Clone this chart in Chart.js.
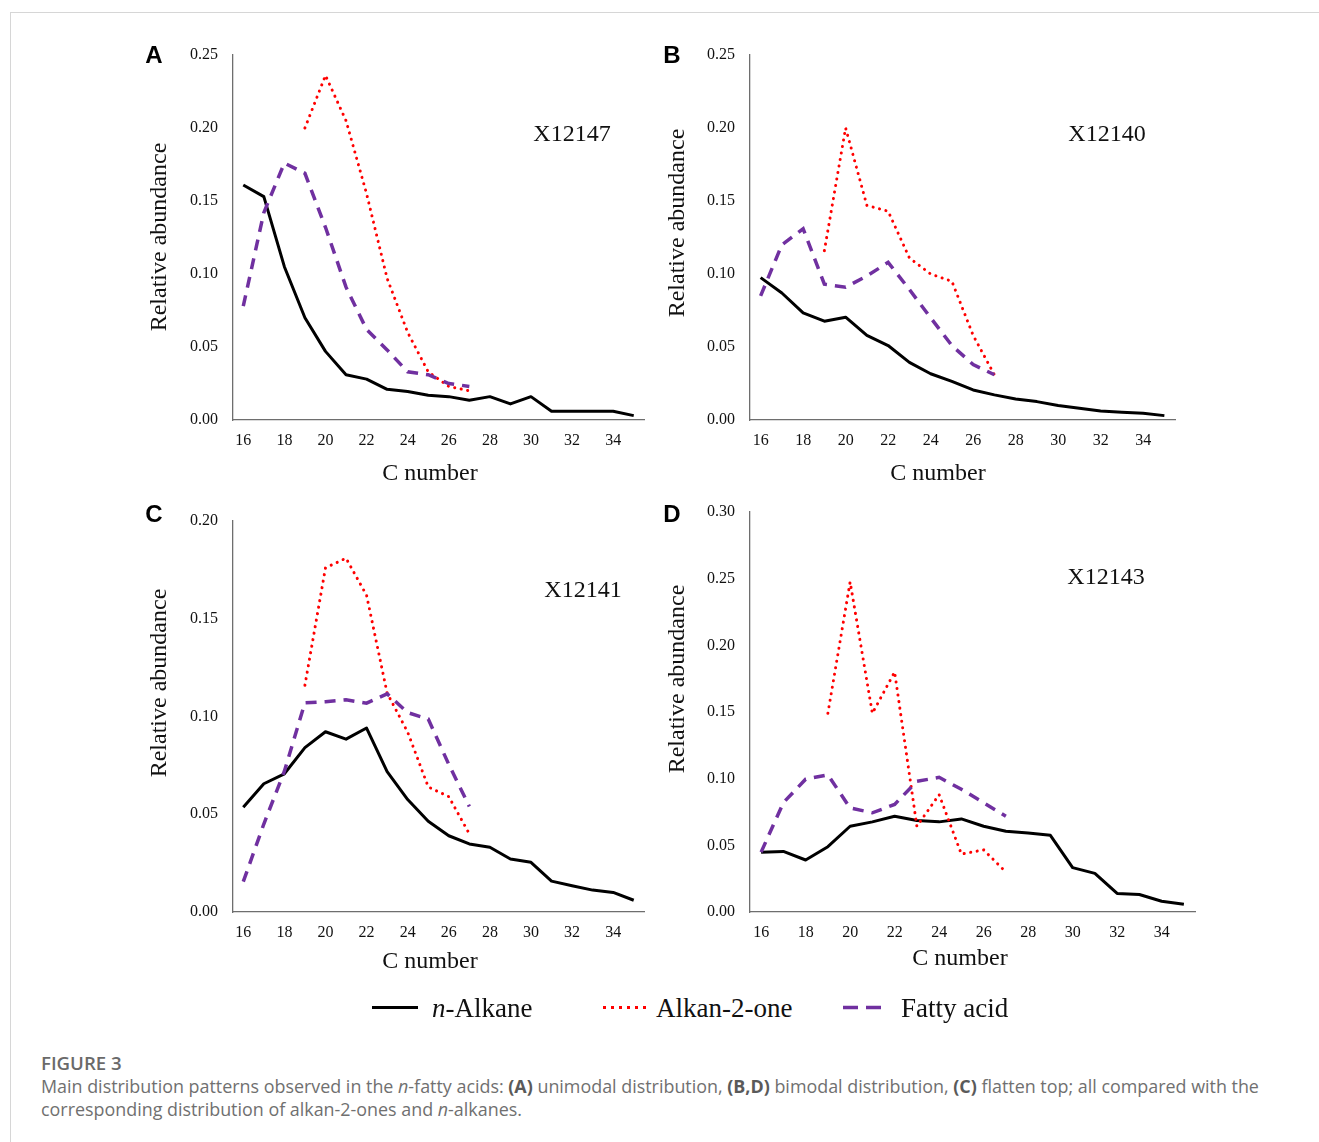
<!DOCTYPE html>
<html>
<head>
<meta charset="utf-8">
<script src="https://cdn.jsdelivr.net/npm/chart.js@4.4.1/dist/chart.umd.min.js"></script>
<style>
  html, body { margin:0; padding:0; background:#fff; }
  body { width:1319px; height:1142px; position:relative; overflow:hidden; }
  .frame-top { position:absolute; left:10px; top:12px; width:1309px; height:1px; background:#d6d6d6; }
  .frame-left { position:absolute; left:10px; top:12px; width:1px; height:1130px; background:#d6d6d6; }
  canvas { position:absolute; }
  .letter { position:absolute; font-family:"Liberation Sans", Arial, sans-serif; font-weight:bold; font-size:24px; line-height:1; transform:translate(-50%,-50%); color:#000; }
  .anno, .axt { position:absolute; font-family:"Liberation Serif", "Times New Roman", serif; font-size:24px; line-height:1; transform:translate(-50%,-50%); color:#111; white-space:nowrap; }
  .ayt { position:absolute; font-family:"Liberation Serif", "Times New Roman", serif; font-size:24px; line-height:1; transform:translate(-50%,-50%) rotate(-90deg); color:#111; white-space:nowrap; }
  .legtext { position:absolute; font-family:"Liberation Serif", "Times New Roman", serif; font-size:27px; line-height:1; transform:translateY(-50%); color:#111; white-space:nowrap; }
  .legsvg { position:absolute; }
  .caption { position:absolute; left:41px; top:1051px; font-family:"Open Sans", "Noto Sans", sans-serif; color:#707070; font-size:17.9px; line-height:23.5px; white-space:nowrap; }
  .caption .fig { font-weight:600; font-size:18.6px; color:#6a6a6a; }
  .caption b { font-weight:700; color:#5a5a5a; }
</style>
</head>
<body>
<div class="frame-top"></div>
<div class="frame-left"></div>

<canvas id="cA" width="530" height="460" style="left:130px; top:42px;"></canvas>
<canvas id="cB" width="545" height="460" style="left:647px; top:42px;"></canvas>
<canvas id="cC" width="530" height="480" style="left:130px; top:508px;"></canvas>
<canvas id="cD" width="565" height="488" style="left:647px; top:502px;"></canvas>

<div class="letter" style="left:154px; top:55px;">A</div>
<div class="letter" style="left:672px; top:55px;">B</div>
<div class="letter" style="left:154px; top:514px;">C</div>
<div class="letter" style="left:672px; top:514px;">D</div>

<div class="anno" style="left:572px; top:133px;">X12147</div>
<div class="anno" style="left:1107px; top:133px;">X12140</div>
<div class="anno" style="left:583px; top:589px;">X12141</div>
<div class="anno" style="left:1106px; top:576px;">X12143</div>

<div class="axt" style="left:430px; top:472px;" id="xtA"></div>
<div class="axt" style="left:938px; top:472px;" id="xtB"></div>
<div class="axt" style="left:430px; top:960px;" id="xtC"></div>
<div class="axt" style="left:960px; top:957px;" id="xtD"></div>

<div class="ayt" style="left:158px; top:237px;" id="ytA"></div>
<div class="ayt" style="left:676px; top:223px;" id="ytB"></div>
<div class="ayt" style="left:158px; top:683px;" id="ytC"></div>
<div class="ayt" style="left:676px; top:679px;" id="ytD"></div>

<svg class="legsvg" style="left:360px; top:995px;" width="700" height="26">
  <line x1="12" y1="12.5" x2="58" y2="12.5" stroke="#000" stroke-width="3"/>
  <line x1="243" y1="12.5" x2="286" y2="12.5" stroke="#ff0000" stroke-width="3" stroke-dasharray="3 5"/>
  <line x1="483" y1="12.5" x2="521" y2="12.5" stroke="#7030a0" stroke-width="3.5" stroke-dasharray="15 8"/>
</svg>
<div class="legtext" style="left:432px; top:1008px;"><i>n</i>-Alkane</div>
<div class="legtext" style="left:656px; top:1008px;">Alkan-2-one</div>
<div class="legtext" style="left:901px; top:1008px;">Fatty acid</div>

<div class="caption">
  <div class="fig">FIGURE 3</div>
  <div>Main distribution patterns observed in the <i>n</i>-fatty acids: <b>(A)</b> unimodal distribution, <b>(B,D)</b> bimodal distribution, <b>(C)</b> flatten top; all compared with the</div>
  <div>corresponding distribution of alkan-2-ones and <i>n</i>-alkanes.</div>
</div>

<script>
// ---- data ----
const cNumbers = [16,17,18,19,20,21,22,23,24,25,26,27,28,29,30,31,32,33,34,35];

const alkaneA = [0.161,0.153,0.105,0.070,0.047,0.031,0.028,0.021,0.0195,0.017,0.016,0.0135,0.016,0.011,0.016,0.006,0.006,0.006,0.006,0.003];
const ketoneA = [null,null,null,0.200,0.236,0.205,0.155,0.097,0.060,0.033,0.023,0.020];
const acidA   = [0.078,0.142,0.176,0.169,0.132,0.091,0.062,0.048,0.033,0.031,0.025,0.023];

const alkaneB = [0.0975,0.087,0.0734,0.0677,0.0704,0.058,0.051,0.0395,0.0317,0.0264,0.0206,0.0172,0.0144,0.0126,0.0099,0.008,0.0062,0.0053,0.0046,0.003];
const ketoneB = [null,null,null,0.116,0.200,0.147,0.143,0.111,0.100,0.095,0.058,0.031];
const acidB   = [0.085,0.120,0.131,0.093,0.091,0.0986,0.108,0.0894,0.070,0.051,0.038,0.031];

const alkaneC = [0.0536,0.0656,0.0707,0.0841,0.0922,0.0884,0.0941,0.0718,0.0575,0.0464,0.039,0.0348,0.0331,0.0271,0.0254,0.0158,0.0134,0.0112,0.010,0.006];
const ketoneC = [null,null,null,0.116,0.176,0.181,0.162,0.112,0.092,0.064,0.059,0.040];
const acidC   = [0.0155,0.045,0.072,0.107,0.1076,0.1085,0.1068,0.1116,0.102,0.0987,0.0755,0.054];

const alkaneD = [0.0449,0.0454,0.039,0.049,0.0643,0.0676,0.0718,0.0686,0.0676,0.0698,0.0643,0.0605,0.0592,0.0575,0.0333,0.029,0.0139,0.0131,0.0081,0.0058];
const ketoneD = [null,null,null,0.149,0.2475,0.149,0.180,0.0643,0.088,0.0434,0.0466,0.030];
const acidD   = [0.0449,0.082,0.0996,0.1029,0.078,0.0744,0.0807,0.098,0.101,0.092,0.082,0.0718];

const yMaxA = 0.25, yMaxB = 0.25, yMaxC = 0.20, yMaxD = 0.30;
const yStep = 0.05;
const xTitle = 'C number';
const yTitle = 'Relative abundance';

// axis titles as real text
['xtA','xtB','xtC','xtD'].forEach(id => document.getElementById(id).textContent = xTitle);
['ytA','ytB','ytC','ytD'].forEach(id => document.getElementById(id).textContent = yTitle);

// ---- drawing ----
const SERIF = '"Liberation Serif", "Times New Roman", serif';
const AXIS_COLOR = '#6e6e6e';
const TEXT_COLOR = '#111';

function makeChart(id, alk, ket, acid, yMax, L) {
  const ctx = document.getElementById(id);
  return new Chart(ctx, {
    type: 'line',
    data: {
      labels: cNumbers,
      datasets: [
        { label: 'Fatty acid', data: acid, borderColor: '#7030a0', borderWidth: 3.5, borderDash: [11, 8], pointRadius: 0, fill: false, tension: 0, spanGaps: false },
        { label: 'Alkan-2-one', data: ket, borderColor: '#ff0000', borderWidth: 3, borderDash: [0.1, 6.5], borderCapStyle: 'round', pointRadius: 0, fill: false, tension: 0, spanGaps: false },
        { label: 'n-Alkane', data: alk, borderColor: '#000000', borderWidth: 3, pointRadius: 0, fill: false, tension: 0, borderJoinStyle: 'round' }
      ]
    },
    options: {
      responsive: false,
      animation: false,
      devicePixelRatio: 1,
      layout: { padding: { top: L.top, right: L.right, bottom: 0, left: 0 } },
      plugins: { legend: { display: false }, tooltip: { enabled: false } },
      scales: {
        x: {
          type: 'category',
          offset: true,
          grid: { display: false, drawTicks: false },
          border: { display: true, color: AXIS_COLOR, width: 1.3 },
          ticks: {
            autoSkip: false, maxRotation: 0, minRotation: 0, padding: 11,
            color: TEXT_COLOR, font: { family: SERIF, size: 16 },
            callback: function (v, i) { const c = cNumbers[i]; return c % 2 === 0 ? String(c) : ''; }
          },
          title: { display: false },
          afterFit: function (s) { s.height = L.xH; s.paddingLeft = 0; s.paddingRight = 0; }
        },
        y: {
          min: 0, max: yMax,
          grid: { display: false, drawTicks: false },
          border: { display: true, color: AXIS_COLOR, width: 1.3 },
          ticks: {
            stepSize: yStep, padding: 15, color: TEXT_COLOR,
            font: { family: SERIF, size: 16 },
            callback: function (v) { return Number(v).toFixed(2); }
          },
          title: { display: false },
          afterFit: function (s) { s.width = 103; s.paddingTop = 0; s.paddingBottom = 0; }
        }
      }
    }
  });
}

makeChart('cA', alkaneA, ketoneA, acidA, yMaxA, { top: 13, right: 16, xH: 82 });
makeChart('cB', alkaneB, ketoneB, acidB, yMaxB, { top: 13, right: 17, xH: 82 });
makeChart('cC', alkaneC, ketoneC, acidC, yMaxC, { top: 13, right: 16, xH: 76 });
makeChart('cD', alkaneD, ketoneD, acidD, yMaxD, { top: 10, right: 17, xH: 78 });
</script>
</body>
</html>
